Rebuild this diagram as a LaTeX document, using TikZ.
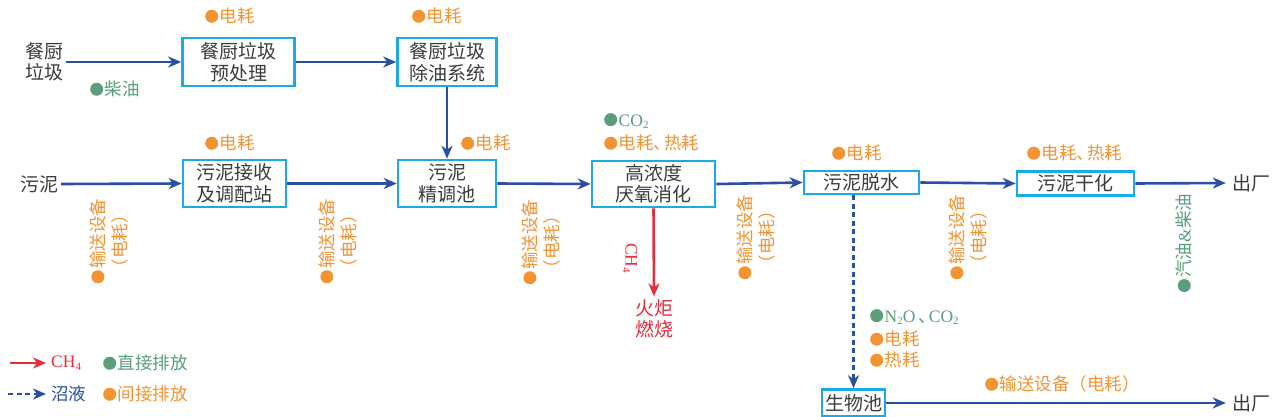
\documentclass[tikz,border=0pt]{standalone}
\usepackage{fontspec}
\setmainfont{Noto Sans CJK SC}
\newfontfamily\latf{Liberation Serif}
\usetikzlibrary{arrows.meta}
\definecolor{boxc}{HTML}{1AAAE6}
\definecolor{flowc}{HTML}{2A4FA3}
\definecolor{orangeC}{HTML}{F39433}
\definecolor{greenC}{HTML}{5B9E7C}
\definecolor{redC}{HTML}{E52D3C}
\definecolor{txt}{HTML}{3C3C3C}
\newcommand\dotc[1]{\tikz[baseline={(0pt,-6.4pt)}]\fill[#1] (0pt,0pt) circle (6.5pt);\hspace{1.5pt}}
\newcommand\dO{\dotc{orangeC}}
\newcommand\dG{\dotc{greenC}}
\newcommand\dun{\makebox[0.6em][l]{、}}
\newcommand\subs[1]{\raisebox{-0.35ex}{\fontsize{11}{11}\selectfont #1}}
\newcommand\boxfont{\fontsize{19}{21.5}\selectfont}
\newcommand\annfont{\fontsize{17.5}{22.5}\selectfont}
\tikzset{
  box/.style={draw=boxc, line width=2.6pt, fill=white, text=txt, font=\boxfont, align=center, inner sep=0pt},
  lbl/.style={text=txt, font=\boxfont, align=center, inner sep=3pt},
  ann/.style={anchor=west, inner sep=0pt, font=\annfont},
  vann/.style={rotate=90, inner sep=0pt, font=\annfont, align=center, text=orangeC},
  tip/.style={-{Stealth[length=13pt,width=11pt,inset=4pt]}},
  flow/.style={draw=flowc, line width=2.6pt, tip},
  gas/.style={draw=redC, line width=2.6pt, tip},
  liq/.style={draw=flowc, line width=2.4pt, dash pattern=on 5pt off 3.5pt, tip},
}
\begin{document}
\begin{tikzpicture}[x=1pt,y=-1pt]
\useasboundingbox[fill=white] (0,0) rectangle (1281,417);
% boxes
\node[box, minimum width=112pt, minimum height=48pt] (b1) at (238.5,62) {餐厨垃圾\\预处理};
\node[box, minimum width=99pt, minimum height=48pt] (b2) at (447,62) {餐厨垃圾\\除油系统};
\node[box, minimum width=103pt, minimum height=47pt] (b3) at (234.5,183.5) {污泥接收\\及调配站};
\node[box, minimum width=98pt, minimum height=47pt] (b4) at (447,183.5) {污泥\\精调池};
\node[box, minimum width=123pt, minimum height=46pt] (b5) at (653.5,184) {高浓度\\厌氧消化};
\node[box, minimum width=115pt, minimum height=23pt] (b6) at (861.5,182.5) {污泥脱水};
\node[box, minimum width=117pt, minimum height=24pt] (b7) at (1075.5,183.5) {污泥干化};
\node[box, minimum width=63pt, minimum height=27pt] (b8) at (853.5,403) {生物池};
% plain labels
\node[lbl] (src1) at (44,62) {餐厨\\垃圾};
\node[lbl] (src2) at (39,184) {污泥};
\node[lbl, inner sep=6pt] (out1) at (1251,183) {出厂};
\node[lbl, inner sep=6pt] (out2) at (1251,403) {出厂};
\node[lbl, text=redC, inner sep=3pt] (fire) at (654,319) {火炬\\燃烧};
% flows
\draw[flow] (src1.east) -- (b1.west);
\draw[flow] (b1.east) -- (b2.west);
\draw[flow] (b2.south) -- (b4.north);
\draw[flow] (src2.east) -- (b3.west);
\draw[flow] (b3.east) -- (b4.west);
\draw[flow] (b4.east) -- (b5.west);
\draw[flow] (b5.east) -- (b6.west);
\draw[flow] (b6.east) -- (b7.west);
\draw[flow] (b7.east) -- (out1.west);
\draw[flow] (b8.east) -- (out2.west);
\draw[gas] (b5.south) -- (fire.north);
\draw[liq] (b6.south -| b8.north) -- (b8.north);
\node[rotate=-90, text=redC, font=\latf\fontsize{17.5}{17.5}\selectfont, inner sep=0pt] (ch4v) at (630,258) {CH\subs{4}};
% annotations
\node[ann, text=orangeC] (a1) at (205,16) {\dO 电耗};
\node[ann, text=orangeC] (a2) at (412,16) {\dO 电耗};
\node[ann, text=greenC] (a3) at (90,89) {\dG 柴油};
\node[ann, text=orangeC] (a4) at (205,143) {\dO 电耗};
\node[ann, text=orangeC] (a5) at (461,143) {\dO 电耗};
\node[ann, text=greenC] (a6) at (604,121) {\dG{\latf CO\subs{2}}};
\node[ann, text=orangeC] (a7) at (604,143) {\dO 电耗\dun 热耗};
\node[ann, text=orangeC] (a8) at (832,153) {\dO 电耗};
\node[ann, text=orangeC] (a9) at (1027,153) {\dO 电耗\dun 热耗};
\node[ann, text=greenC] (a10) at (870,317) {\dG{\latf N\subs{2}O\,}\dun{\latf CO\subs{2}}};
\node[ann, text=orangeC] (a11) at (870,339) {\dO 电耗};
\node[ann, text=orangeC] (a12) at (870,360) {\dO 热耗};
\node[ann, text=orangeC] (a13) at (985,384) {\dO 输送设备（电耗）};
% vertical annotations
\node[vann] (v1) at (109,241) {\dO 输送设备\\（电耗）};
\node[vann] (v2) at (338,241) {\dO 输送设备\\（电耗）};
\node[vann] (v3) at (541,242) {\dO 输送设备\\（电耗）};
\node[vann] (v4) at (756,237) {\dO 输送设备\\（电耗）};
\node[vann] (v5) at (968,237) {\dO 输送设备\\（电耗）};
\node[vann, text=greenC] (v6) at (1184,243) {\dG 汽油{\latf\&}柴油};
% legend
\node[ann, text=redC, font=\latf\fontsize{17.5}{17.5}\selectfont] (lg1) at (51,363) {CH\subs{4}};
\coordinate (lg1s) at (10,363);
\draw[gas, shorten >=5pt] (lg1s) -- (lg1.west);
\node[ann, text=flowc] (lg2) at (51,394) {沼液};
\coordinate (lg2s) at (8,394);
\draw[liq, shorten >=5pt] (lg2s) -- (lg2.west);
\node[ann, text=greenC] (lg3) at (103,363) {\dG 直接排放};
\node[ann, text=orangeC] (lg4) at (103,394) {\dO 间接排放};
\end{tikzpicture}
\end{document}
